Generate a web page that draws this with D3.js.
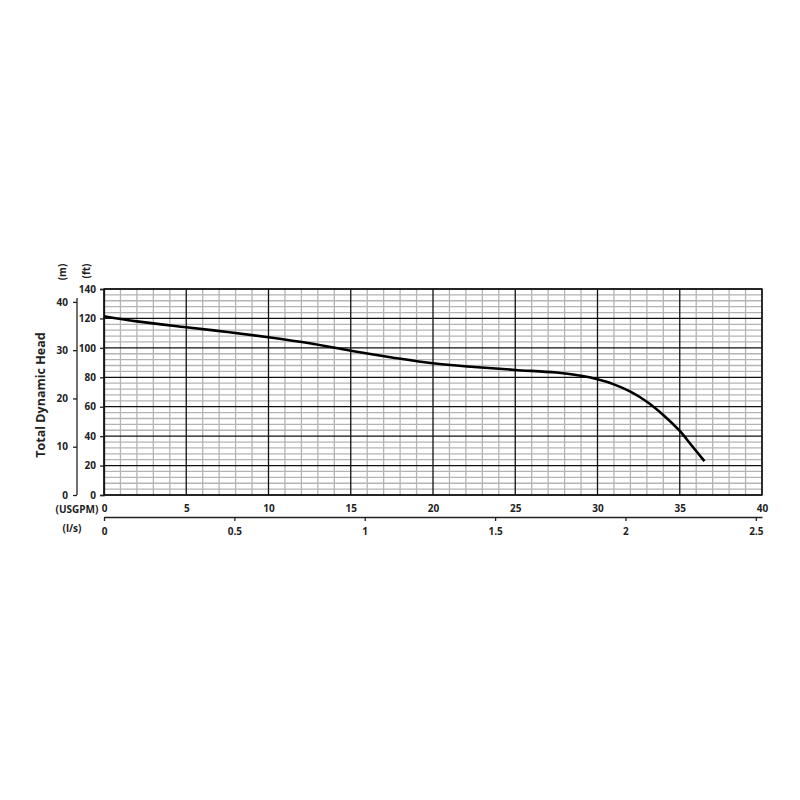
<!DOCTYPE html>
<html>
<head>
<meta charset="utf-8">
<script src="https://cdn.jsdelivr.net/npm/d3@7"></script>
<style>
  body { margin: 0; background: #fff; }
  text { font-family: "Open Sans", "Liberation Sans", sans-serif; font-weight: bold; fill: #222; }
</style>
</head>
<body>
<script>
// pump curve, flow in USGPM, head in ft
var flowUsgpm = [0, 2, 5, 7.5, 10, 12.5, 15, 17.5, 20, 22.5, 25, 27.5, 29, 30, 31, 32, 33, 34, 35, 35.7, 36.5];
var headFt = [121.5, 118, 114, 110.8, 107.2, 103.1, 98, 93.5, 89.5, 87, 85, 83.2, 81, 78.6, 75.2, 70.2, 63.4, 54.4, 43.5, 34, 23];

var ftTicks = [0, 20, 40, 60, 80, 100, 120, 140];
var mTicks = [0, 10, 20, 30, 40];
var usgpmTicks = [0, 5, 10, 15, 20, 25, 30, 35, 40];
var lpsTicks = [0, 0.5, 1, 1.5, 2, 2.5];

var FT_PER_M = 3.28084;
var USGPM_PER_LPS = 15.850;

var plot = { left: 104, right: 762, top: 289, bottom: 495 };

var svg = d3.select('body').append('svg')
  .attr('width', 800)
  .attr('height', 800);

var x = d3.scaleLinear().domain([0, 40]).range([plot.left, plot.right]);
var y = d3.scaleLinear().domain([0, 140]).range([plot.bottom, plot.top]);

// minor grid
var g = svg.append('g');
g.selectAll('line.vmin').data(d3.range(0, 41, 1).filter(function (d) { return d % 5 !== 0; }))
  .enter().append('line')
  .attr('x1', x).attr('x2', x)
  .attr('y1', plot.top).attr('y2', plot.bottom)
  .style('stroke', '#b4b4b4').style('stroke-width', 1.3);
g.selectAll('line.hmin').data(d3.range(0, 141, 4).filter(function (d) { return d % 20 !== 0; }))
  .enter().append('line')
  .attr('y1', y).attr('y2', y)
  .attr('x1', plot.left).attr('x2', plot.right)
  .style('stroke', '#b4b4b4').style('stroke-width', 1.3);

// major grid
g.selectAll('line.vmaj').data(usgpmTicks)
  .enter().append('line')
  .attr('x1', x).attr('x2', x)
  .attr('y1', plot.top).attr('y2', plot.bottom)
  .style('stroke', '#111').style('stroke-width', 1.3);
g.selectAll('line.hmaj').data(ftTicks)
  .enter().append('line')
  .attr('y1', y).attr('y2', y)
  .attr('x1', plot.left).attr('x2', plot.right)
  .style('stroke', '#111').style('stroke-width', 1.3);

// ft axis (left of plot)
var ftAxis = d3.axisLeft(y).tickValues(ftTicks).tickSize(4).tickPadding(4);
var ftG = svg.append('g').attr('transform', 'translate(' + plot.left + ',0)').call(ftAxis);

// m axis, separate line further left
var yM = d3.scaleLinear().domain([0, 140 / FT_PER_M]).range([plot.bottom, plot.top]);
var mAxis = d3.axisLeft(yM).tickValues(mTicks).tickSize(4).tickPadding(5).tickSizeOuter(0);
var mG = svg.append('g').attr('transform', 'translate(77,0)').call(mAxis);
mG.select('.domain').attr('d', 'M0,' + yM(0) + 'V' + yM(40.8));

// USGPM labels (no line, directly under the plot)
var uG = svg.append('g').attr('transform', 'translate(0,' + plot.bottom + ')')
  .call(d3.axisBottom(x).tickValues(usgpmTicks).tickSize(0).tickPadding(10));
uG.select('.domain').remove();

// l/s axis
var xL = d3.scaleLinear().domain([0, 40 / USGPM_PER_LPS]).range([plot.left, plot.right]);
var lG = svg.append('g').attr('transform', 'translate(0,517)')
  .call(d3.axisBottom(xL).tickValues(lpsTicks).tickFormat(d3.format('')).tickSize(4).tickPadding(7).tickSizeOuter(0));

[ftG, mG, uG, lG].forEach(function (sel) {
  sel.selectAll('text').style('font-size', '10px').style('font-family', '"Open Sans", sans-serif').style('font-weight', 'bold').style('fill', '#222');
  sel.selectAll('line, path').style('stroke', '#222').style('stroke-width', 1.3);
});

// plot border
svg.append('rect')
  .attr('x', plot.left).attr('y', plot.top)
  .attr('width', plot.right - plot.left).attr('height', plot.bottom - plot.top)
  .style('fill', 'none').style('stroke', '#111').style('stroke-width', 1.3);

// curve
var pts = flowUsgpm.map(function (q, i) { return [q, headFt[i]]; });
var line = d3.line()
  .x(function (d) { return x(d[0]); })
  .y(function (d) { return y(d[1]); })
  .curve(d3.curveCatmullRom.alpha(0.5));
svg.append('path')
  .datum(pts)
  .attr('d', line)
  .style('fill', 'none')
  .style('stroke', '#000')
  .style('stroke-width', 2.6);

// unit labels
svg.append('text').attr('transform', 'translate(66,272) rotate(-90)')
  .attr('text-anchor', 'middle').style('font-size', '10px').text('(m)');
svg.append('text').attr('transform', 'translate(90,271) rotate(-90)')
  .attr('text-anchor', 'middle').style('font-size', '10px').text('(ft)');
svg.append('text').attr('x', 77).attr('y', 513)
  .attr('text-anchor', 'middle').style('font-size', '10px').text('(USGPM)');
svg.append('text').attr('x', 72).attr('y', 532)
  .attr('text-anchor', 'middle').style('font-size', '10px').text('(l/s)');

svg.append('text').attr('transform', 'translate(45,395) rotate(-90)')
  .attr('text-anchor', 'middle').style('font-size', '12.5px').text('Total Dynamic Head');
</script>
</body>
</html>
